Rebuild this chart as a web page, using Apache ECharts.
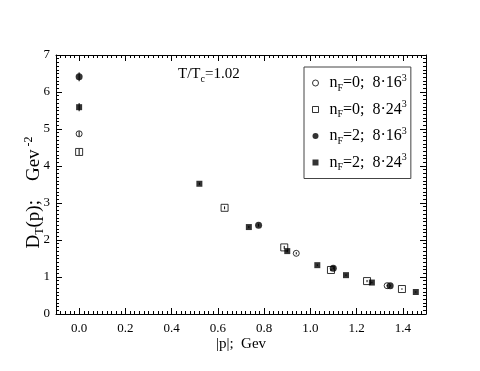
<!DOCTYPE html>
<html>
<head>
<meta charset="utf-8">
<script src="https://cdn.jsdelivr.net/npm/echarts@6/dist/echarts.min.js"></script>
<style>
html,body{margin:0;padding:0;background:#fff;}
#chart{width:480px;height:371px;}
</style>
</head>
<body>
<div id="chart"></div>
<script>
// |p| (Gev) and D_T(p) (Gev^-2) for each run
var p_nf0_16 = [0.0, 0.939, 1.332];
var d_nf0_16 = [4.87, 1.64, 0.765];
var e_nf0_16 = [0.07, 0.03, 0.02];

var p_nf0_24 = [0.0, 0.629, 0.887, 1.089, 1.245, 1.396];
var d_nf0_24 = [4.38, 2.87, 1.80, 1.19, 0.89, 0.675];
var e_nf0_24 = [0.08, 0.04, 0.04, 0.03, 0.03, 0.02];

var p_nf2_16 = [0.0, 0.776, 1.099, 1.345];
var d_nf2_16 = [6.41, 2.40, 1.235, 0.765];
var e_nf2_16 = [0.12, 0.04, 0.03, 0.02];

var p_nf2_24 = [0.0, 0.520, 0.734, 0.900, 1.030, 1.154, 1.266, 1.456];
var d_nf2_24 = [5.59, 3.52, 2.35, 1.70, 1.32, 1.05, 0.85, 0.595];
var e_nf2_24 = [0.11, 0.03, 0.03, 0.03, 0.02, 0.02, 0.02, 0.02];

var xTicks = [0.0, 0.2, 0.4, 0.6, 0.8, 1.0, 1.2, 1.4];
var yTicks = [0, 1, 2, 3, 4, 5, 6, 7];

var seriesNames = ['nF=0; 8x16^3', 'nF=0; 8x24^3', 'nF=2; 8x16^3', 'nF=2; 8x24^3'];
var legendTexts = [
  '{f|n}{s|F}{m|=0;  8\u00b716}{p|3}',
  '{f|n}{s|F}{m|=0;  8\u00b724}{p|3}',
  '{f|n}{s|F}{m|=2;  8\u00b716}{p|3}',
  '{f|n}{s|F}{m|=2;  8\u00b724}{p|3}'
];

var serif = 'Liberation Serif';
var black = '#000';

var rich = {
  f: {fontFamily: serif, fontSize: 16, fontWeight: 'normal', color: black, lineHeight: 20, verticalAlign: 'middle', padding: [0, 0, 0, 6]},
  m: {fontFamily: serif, fontSize: 16, fontWeight: 'normal', color: black, lineHeight: 20, verticalAlign: 'middle'},
  s: {fontFamily: serif, fontSize: 10, fontWeight: 'normal', color: black, lineHeight: 10, verticalAlign: 'bottom'},
  p: {fontFamily: serif, fontSize: 10, fontWeight: 'normal', color: black, lineHeight: 10, verticalAlign: 'top'}
};

var titleRich = {
  m: {fontFamily: serif, fontSize: 15, fontWeight: 'normal', color: black, lineHeight: 20, verticalAlign: 'middle'},
  s: {fontFamily: serif, fontSize: 10, fontWeight: 'normal', color: black, lineHeight: 10, verticalAlign: 'bottom'}
};

// y title is shifted toward its start a bit, like the original
var yRich = {
  m: {fontFamily: serif, fontSize: 19, color: black, lineHeight: 23, verticalAlign: 'middle'},
  s: {fontFamily: serif, fontSize: 12, color: black, lineHeight: 12, verticalAlign: 'bottom'},
  p: {fontFamily: serif, fontSize: 12, color: black, lineHeight: 12, verticalAlign: 'top', padding: [0, 16, 0, 3]}
};

function zip(xs, ys) {
  var out = [];
  for (var i = 0; i < xs.length; i++) out.push([xs[i], ys[i]]);
  return out;
}

function errData(xs, ys, es) {
  var out = [];
  for (var i = 0; i < xs.length; i++) out.push([xs[i], ys[i] - es[i], ys[i] + es[i]]);
  return out;
}

// plain vertical error bar
function renderErr(params, api) {
  var x = api.value(0);
  var a = api.coord([x, api.value(2)]);
  var b = api.coord([x, api.value(1)]);
  return {
    type: 'line',
    shape: {x1: a[0], y1: a[1], x2: b[0], y2: b[1]},
    style: {stroke: black, lineWidth: 1}
  };
}

var openStyle = {color: 'rgba(0,0,0,0)', borderColor: black, borderWidth: 1};
var fillStyle = {color: black};

var majorX = function (pos, showLabel) {
  return {
    type: 'value', gridIndex: 0, position: pos, min: -0.1, max: 1.5,
    axisLine: {onZero: false, lineStyle: {color: black, width: 1}},
    axisTick: {inside: true, length: 6, customValues: xTicks, lineStyle: {color: black}},
    axisLabel: {
      show: showLabel, customValues: xTicks, margin: 8,
      fontFamily: serif, fontSize: 13, color: black,
      formatter: function (v) { return v.toFixed(1); }
    },
    splitLine: {show: false}
  };
};

var minorX = function (pos) {
  return {
    type: 'value', gridIndex: 1, position: pos, min: -0.1, max: 1.5, interval: 0.02,
    axisLine: {show: false},
    axisTick: {inside: true, length: 3, lineStyle: {color: black}},
    axisLabel: {show: false},
    splitLine: {show: false}
  };
};

var yAx = function (pos, showLabel) {
  return {
    type: 'value', gridIndex: 0, position: pos, min: 0, max: 7, interval: 1,
    axisLine: {show: true, onZero: false, lineStyle: {color: black, width: 1}},
    axisTick: {inside: true, length: 6, lineStyle: {color: black}},
    minorTick: {show: true, splitNumber: 10, length: 3, lineStyle: {color: black}},
    axisLabel: {show: showLabel, margin: 6, fontFamily: serif, fontSize: 13, color: black},
    splitLine: {show: false}
  };
};

var xBottom = majorX('bottom', true);
xBottom.name = '|p|;  Gev';
xBottom.nameLocation = 'middle';
xBottom.nameGap = 23;
xBottom.nameMoveOverlap = false;
xBottom.nameTextStyle = {fontFamily: serif, fontSize: 15, color: black};

var yLeft = yAx('left', true);
yLeft.name = '{m|D}{s|T}{m|(p);    Gev}{p|-2}';
yLeft.nameLocation = 'middle';
yLeft.nameRotate = 90;
yLeft.nameGap = 10;
yLeft.nameMoveOverlap = false;
yLeft.nameTextStyle = {rich: yRich};

var chart = echarts.init(document.getElementById('chart'), null, {renderer: 'canvas'});

var option = {
  animation: false,
  backgroundColor: '#fff',
  title: {
    text: '{m|T/T}{s|c}{m|=1.02}',
    left: 178, top: 64, padding: 0,
    textStyle: {rich: titleRich}
  },
  legend: {
    data: seriesNames,
    orient: 'vertical',
    left: 304, top: 67,
    padding: [6, 4, 6, 8],
    itemWidth: 6, itemHeight: 6, itemGap: 6.5,
    borderColor: '#444', borderWidth: 1,
    itemStyle: {borderWidth: 1},
    formatter: function (name) { return legendTexts[seriesNames.indexOf(name)]; },
    textStyle: {rich: rich}
  },
  grid: [
    {left: 56, top: 55, right: 54, bottom: 57},
    {left: 56, top: 55, right: 54, bottom: 57}
  ],
  xAxis: [xBottom, majorX('top', false), minorX('bottom'), minorX('top')],
  yAxis: [yLeft, yAx('right', false), {type: 'value', gridIndex: 1, show: false, min: 0, max: 7}],
  series: [
    {name: seriesNames[0], type: 'scatter', symbol: 'circle', symbolSize: 6, itemStyle: openStyle, data: zip(p_nf0_16, d_nf0_16), z: 5},
    {name: seriesNames[1], type: 'scatter', symbol: 'rect', symbolSize: 7, itemStyle: openStyle, data: zip(p_nf0_24, d_nf0_24), z: 5},
    {name: seriesNames[2], type: 'scatter', symbol: 'circle', symbolSize: 7, itemStyle: fillStyle, data: zip(p_nf2_16, d_nf2_16), z: 5},
    {name: seriesNames[3], type: 'scatter', symbol: 'rect', symbolSize: 6, itemStyle: fillStyle, data: zip(p_nf2_24, d_nf2_24), z: 5},
    {type: 'custom', renderItem: renderErr, data: errData(p_nf0_16, d_nf0_16, e_nf0_16), encode: {x: 0, y: [1, 2]}, z: 3},
    {type: 'custom', renderItem: renderErr, data: errData(p_nf0_24, d_nf0_24, e_nf0_24), encode: {x: 0, y: [1, 2]}, z: 3},
    {type: 'custom', renderItem: renderErr, data: errData(p_nf2_16, d_nf2_16, e_nf2_16), encode: {x: 0, y: [1, 2]}, z: 3},
    {type: 'custom', renderItem: renderErr, data: errData(p_nf2_24, d_nf2_24, e_nf2_24), encode: {x: 0, y: [1, 2]}, z: 3}
  ]
};

chart.setOption(option);
</script>
</body>
</html>
